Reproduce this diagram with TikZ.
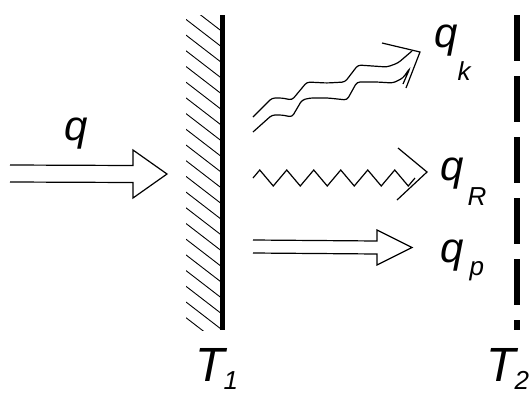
\documentclass[tikz,border=0pt]{standalone}
\usepackage{fontspec}
\setmainfont{Liberation Sans}
\usetikzlibrary{calc,decorations.pathmorphing}

% hollow double-line arrow: from, tip, half gap, half head width, head length
\newcommand{\hollowarrow}[5]{%
  \draw[flow] ($(#1)+(0,-#3)$) -- ($(#2)+(-#5,-#3)$) -- ($(#2)+(-#5,-#4)$)
    -- (#2) -- ($(#2)+(-#5,#4)$) -- ($(#2)+(-#5,#3)$) -- ($(#1)+(0,#3)$);}
\newcommand{\lowsub}[2]{\raisebox{-#1pt}{\fontsize{26}{26}\selectfont #2}}

\begin{document}
\begin{tikzpicture}[
      x=1pt, y=-1pt,
      flow/.style={line width=1.2pt, line join=miter},
      wall/.style={line width=5pt},
      hatch/.style={line width=0.9pt},
      lbl/.style={font=\fontsize{42}{42}\selectfont\itshape, inner sep=0pt, anchor=base west}
    ]
    \useasboundingbox (0,0) rectangle (531,394);

    % first wall with hatching
    \coordinate (w1top) at (222,15);
    \coordinate (w1bot) at (222,330);
    \begin{scope}
      \clip (186,15) rectangle (221,330);
      \foreach \y in {-12,3.7,...,335}
        \draw[hatch] (186,\y) -- (221,\y+27);
    \end{scope}
    \draw[wall] (w1top) -- (w1bot);

    % second wall, dashed
    \coordinate (w2top) at (517,15);
    \coordinate (w2bot) at (517,330);
    \draw[wall, line width=6pt, dash pattern=on 46pt off 15pt] (w2top) -- (w2bot);

    % incoming flux
    \coordinate (qin) at (10,173.5);
    \coordinate (qhit) at (167,174);
    \hollowarrow{qin}{qhit}{8.5}{24}{34}

    % conduction/convection (wavy double)
    \coordinate (qktip) at (420,52);
    \draw[flow, rounded corners=3pt] (253,117) -- (272,98) -- (282,98) -- (292,100)
      -- (307,82) -- (327,83) -- (345,82) -- (358,65) -- (387,67) -- (398,63) -- (412,51);
    \draw[flow, rounded corners=3pt] (253,132) -- (272,115) -- (282,115) -- (292,117)
      -- (302,100) -- (310,98) -- (328,98) -- (347,100) -- (357,82) -- (377,82)
      -- (393,83) -- (403,78) -- (410,68) -- (403,84);
    \draw[flow] (382,43) -- (qktip) -- (406,88);

    % radiation
    \coordinate (qRs) at (253,178);
    \coordinate (qRe) at (415,178);
    \coordinate (qRtip) at (427,172);
    \draw[flow, decorate, decoration={zigzag, segment length=27pt, amplitude=8pt}] (qRs) -- (qRe);
    \draw[flow] (398,148) -- (qRtip) -- (397,200);

    % transmitted
    \coordinate (qps) at (253,246.5);
    \coordinate (qpe) at (412,247.5);
    \hollowarrow{qps}{qpe}{6.5}{17.5}{35}

    % labels
    \node[lbl] (q) at (64,140) {q};
    \node[lbl] (qk) at (434,47) {q\lowsub{33}{k}};
    \node[lbl] (qR) at (440,180) {q\hspace{4pt}\lowsub{25}{R}};
    \node[lbl] (qp) at (440,262) {q\hspace{6pt}\lowsub{13}{p}};
    \node[lbl, font=\fontsize{48}{48}\selectfont\itshape] (T1) at (195,381) {T\kern-1pt\lowsub{8}{1}};
    \node[lbl, font=\fontsize{48}{48}\selectfont\itshape] (T2) at (486,381) {T\kern-1pt\lowsub{8}{2}};
  \end{tikzpicture}
\end{document}
